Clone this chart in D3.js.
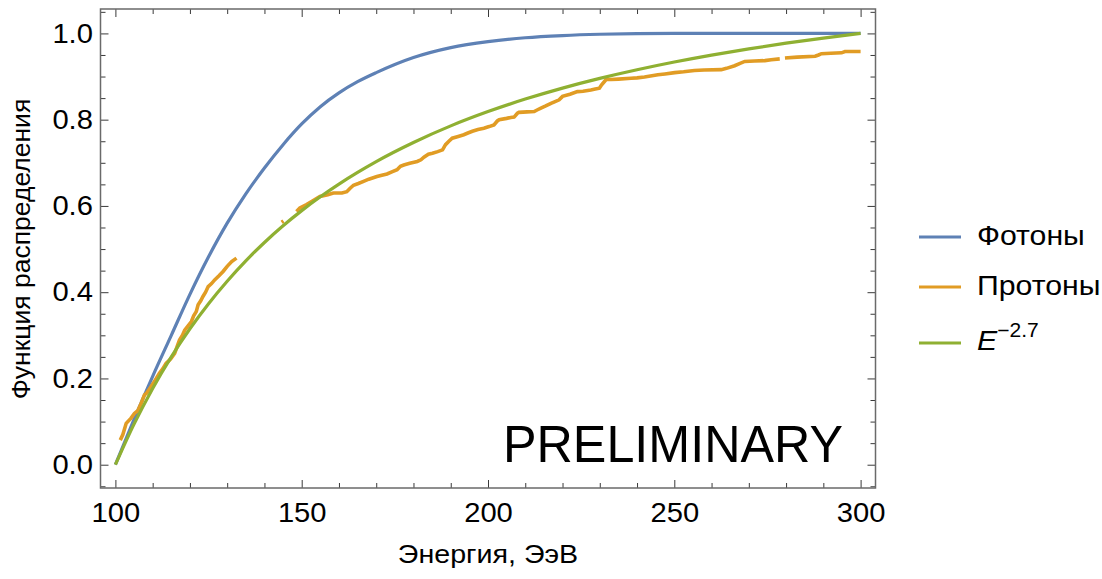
<!DOCTYPE html>
<html>
<head>
<meta charset="utf-8">
<script src="https://cdn.jsdelivr.net/npm/d3@7"></script>
<style>
  html, body { margin: 0; padding: 0; background: #fff; }
  svg { display: block; font-family: "Liberation Sans", Arial, sans-serif; }
</style>
</head>
<body>
<svg id="chart" width="1102" height="579"></svg>
<script>
// ---------- data ----------
const energyGrid = [100,105,110,115,120,125,130,135,140,145,150,155,160,165,170,180,190,200,210,220,230,240,250,260,270,280,290,300];
const photonCdf  = [0,0.105,0.205,0.300,0.395,0.482,0.560,0.628,0.688,0.742,0.790,0.830,0.862,0.888,0.909,0.944,0.967,0.981,0.990,0.995,0.998,0.9995,1,1,1,1,1,1];
const powerLawCdf = [0,0.0941,0.1769,0.2502,0.3152,0.3734,0.4255,0.4726,0.5152,0.5539,0.5891,0.6213,0.6507,0.6778,0.7029,0.7472,0.7856,0.8187,0.8477,0.8732,0.8957,0.9157,0.9336,0.9497,0.9642,0.9773,0.9891,1];

// Proton empirical CDF (null = gap in the plotted curve)
const protonEnergy = [101.3,102.0,102.9,104.2,105.1,106.0,106.9,107.8,108.3,109.5,110.6,111.8,112.7,113.6,114.8,115.9,116.6,117.2,118.0,118.6,119.5,120.4,121.0,121.7,122.2,122.9,123.5,124.2,124.9,125.8,126.7,127.8,128.9,130.0,131.2,132.5,
  138.0,
  144.6,145.1,
  146.8,
  148.6,149.5,151.3,153.0,154.9,157.0,158.5,160.8,162.1,163.0,163.9,165.2,166.6,168.0,170.2,171.5,172.9,174.2,175.6,176.5,177.4,179.0,181.0,182.0,182.8,184.0,185.1,186.5,187.8,188.6,189.5,190.4,192.0,193.5,194.6,195.8,197.3,198.9,200.3,201.6,202.5,203.0,205.0,206.1,207.0,207.9,208.3,210.5,212.4,213.3,214.2,215.5,216.9,218.0,219.1,220.0,222.0,224.0,225.5,227.6,228.8,229.9,230.5,231.2,231.7,233.0,235.0,238.4,240.0,242.0,245.6,247.5,250.1,252.5,255.4,258.0,262.6,264.0,266.2,267.5,268.9,271.5,274.3,276.0,278.3,
  279.0,
  279.7,283.0,287.8,288.7,289.5,292.0,294.9,295.8,300.0];
const protonCdf = [0.057,0.070,0.096,0.108,0.119,0.125,0.142,0.162,0.165,0.180,0.195,0.212,0.222,0.235,0.245,0.258,0.275,0.289,0.300,0.312,0.322,0.332,0.345,0.355,0.371,0.380,0.390,0.400,0.413,0.420,0.429,0.438,0.448,0.460,0.471,0.479,
  null,
  0.562,0.565,
  null,
  0.587,0.595,0.603,0.612,0.622,0.626,0.630,0.630,0.633,0.641,0.648,0.652,0.657,0.662,0.668,0.671,0.674,0.679,0.684,0.692,0.695,0.699,0.703,0.707,0.713,0.720,0.722,0.726,0.730,0.742,0.750,0.757,0.761,0.765,0.769,0.773,0.777,0.780,0.784,0.788,0.797,0.800,0.803,0.805,0.806,0.815,0.817,0.818,0.819,0.823,0.827,0.832,0.838,0.842,0.846,0.854,0.859,0.865,0.866,0.869,0.871,0.873,0.881,0.888,0.893,0.893,0.894,0.896,0.897,0.899,0.904,0.906,0.909,0.911,0.914,0.915,0.916,0.919,0.925,0.930,0.935,0.936,0.937,0.939,0.941,
  null,
  0.943,0.945,0.947,0.950,0.953,0.954,0.955,0.958,0.958];

const xMajorTicks = [100,150,200,250,300];
const xTickLabels = ["100","150","200","250","300"];
const yMajorTicks = [0,0.2,0.4,0.6,0.8,1.0];
const yTickLabels = ["0.0","0.2","0.4","0.6","0.8","1.0"];
const xMinorTicks = [110,120,130,140,160,170,180,190,210,220,230,240,260,270,280,290];
const yMinorTicks = [-0.05,0.05,0.1,0.15,0.25,0.3,0.35,0.45,0.5,0.55,0.65,0.7,0.75,0.85,0.9,0.95,1.05];

const seriesNames = ["Фотоны","Протоны","E"];
const seriesColors = ["#5E81B5","#E19C24","#8FB032"];
const xTitle = "Энергия, ЭэВ";
const yTitle = "Функция распределения";
const stampText = "PRELIMINARY";

// ---------- layout ----------
const svg = d3.select("#chart");
const L = 100.5, R = 875.5, T = 9, B = 488;
const x = d3.scaleLinear().domain([96, 304]).range([L, R]);
const y = d3.scaleLinear().domain([-0.054, 1.0566]).range([B, T]);

const frameColor = "#6a6a6a";
const tickColor = "#3a3a3a";
const fontTick = 27;
const stretch = 1.08;

// clip
svg.append("defs").append("clipPath").attr("id","clip")
  .append("rect").attr("x",L).attr("y",T).attr("width",R-L).attr("height",B-T);

// curves
const lineGen = d3.line()
  .defined(d => d[1] != null)
  .x(d => x(d[0])).y(d => y(d[1]))
  .curve(d3.curveMonotoneX);
const stepGen = d3.line()
  .defined(d => d[1] != null)
  .x(d => x(d[0])).y(d => y(d[1]))
  .curve(d3.curveLinear);

const plot = svg.append("g").attr("clip-path","url(#clip)");

plot.append("path")
  .datum(energyGrid.map((e,i)=>[e, photonCdf[i]]))
  .attr("fill","none").attr("stroke",seriesColors[0]).attr("stroke-width",3.2)
  .attr("d", lineGen);

plot.append("path")
  .datum(protonEnergy.map((e,i)=>[e, protonCdf[i]]))
  .attr("fill","none").attr("stroke",seriesColors[1]).attr("stroke-width",3.6)
  .attr("stroke-linejoin","miter")
  .attr("d", stepGen);

plot.append("path")
  .datum(energyGrid.map((e,i)=>[e, powerLawCdf[i]]))
  .attr("fill","none").attr("stroke",seriesColors[2]).attr("stroke-width",3.2)
  .attr("d", lineGen);

// axes
function styleAxis(g) {
  g.select(".domain").remove();
  g.selectAll(".tick line").attr("stroke", tickColor).attr("stroke-width",1);
  g.selectAll(".tick text").attr("fill","#000").attr("font-size",fontTick)
    .attr("font-family",'"Liberation Sans", Arial, sans-serif')
    .attr("transform",`scale(${stretch},1)`);
}
const fmtX = (d,i) => xTickLabels[i];
const fmtY = (d,i) => yTickLabels[i];

svg.append("g").attr("transform",`translate(0,${B})`)
  .call(d3.axisBottom(x).tickValues(xMajorTicks).tickFormat(fmtX).tickSizeInner(-8).tickSizeOuter(0).tickPadding(15))
  .call(styleAxis);
svg.append("g").attr("transform",`translate(0,${B})`)
  .call(d3.axisBottom(x).tickValues(xMinorTicks).tickFormat("").tickSizeInner(-5).tickSizeOuter(0))
  .call(styleAxis);
svg.append("g").attr("transform",`translate(0,${T})`)
  .call(d3.axisTop(x).tickValues(xMajorTicks).tickFormat("").tickSizeInner(-8).tickSizeOuter(0))
  .call(styleAxis);
svg.append("g").attr("transform",`translate(0,${T})`)
  .call(d3.axisTop(x).tickValues(xMinorTicks).tickFormat("").tickSizeInner(-5).tickSizeOuter(0))
  .call(styleAxis);

svg.append("g").attr("transform",`translate(${L},0)`)
  .call(d3.axisLeft(y).tickValues(yMajorTicks).tickFormat(fmtY).tickSizeInner(-8).tickSizeOuter(0).tickPadding(7))
  .call(styleAxis);
svg.append("g").attr("transform",`translate(${L},0)`)
  .call(d3.axisLeft(y).tickValues(yMinorTicks).tickFormat("").tickSizeInner(-5).tickSizeOuter(0))
  .call(styleAxis);
svg.append("g").attr("transform",`translate(${R},0)`)
  .call(d3.axisRight(y).tickValues(yMajorTicks).tickFormat("").tickSizeInner(-8).tickSizeOuter(0))
  .call(styleAxis);
svg.append("g").attr("transform",`translate(${R},0)`)
  .call(d3.axisRight(y).tickValues(yMinorTicks).tickFormat("").tickSizeInner(-5).tickSizeOuter(0))
  .call(styleAxis);

// frame
svg.append("rect").attr("x",L).attr("y",T).attr("width",R-L).attr("height",B-T)
  .attr("fill","none").attr("stroke",frameColor).attr("stroke-width",1.5);

// titles
svg.append("g").attr("transform",`translate(${x(200)},563) scale(${stretch},1)`)
  .append("text").attr("text-anchor","middle")
  .attr("font-size",26.5).attr("fill","#000").text(xTitle);
svg.append("text").attr("transform",`translate(30,${y(0.5)}) rotate(-90)`)
  .attr("text-anchor","middle").attr("font-size",26.5).attr("fill","#000").text(yTitle);

// stamp
svg.append("text").attr("x", 843).attr("y", 462).attr("text-anchor","end")
  .attr("font-size",52).attr("textLength",340).attr("lengthAdjust","spacingAndGlyphs")
  .attr("fill","#000").text(stampText);

// legend
const legendY = [237, 287, 343];
seriesNames.forEach((name,i) => {
  svg.append("line").attr("x1",919).attr("x2",961).attr("y1",legendY[i]).attr("y2",legendY[i])
    .attr("stroke",seriesColors[i]).attr("stroke-width",3.2);
  const t = svg.append("g").attr("transform",`translate(977,${legendY[i] + (i < 2 ? 8 : 7)}) scale(${stretch},1)`)
    .append("text").attr("font-size",28).attr("fill","#000");
  if (i < 2) {
    t.text(name);
  } else {
    t.append("tspan").attr("font-style","italic").text(name);
    t.append("tspan").attr("font-size",19.5).attr("dy",-13).text("−2.7");
  }
});
</script>
</body>
</html>
